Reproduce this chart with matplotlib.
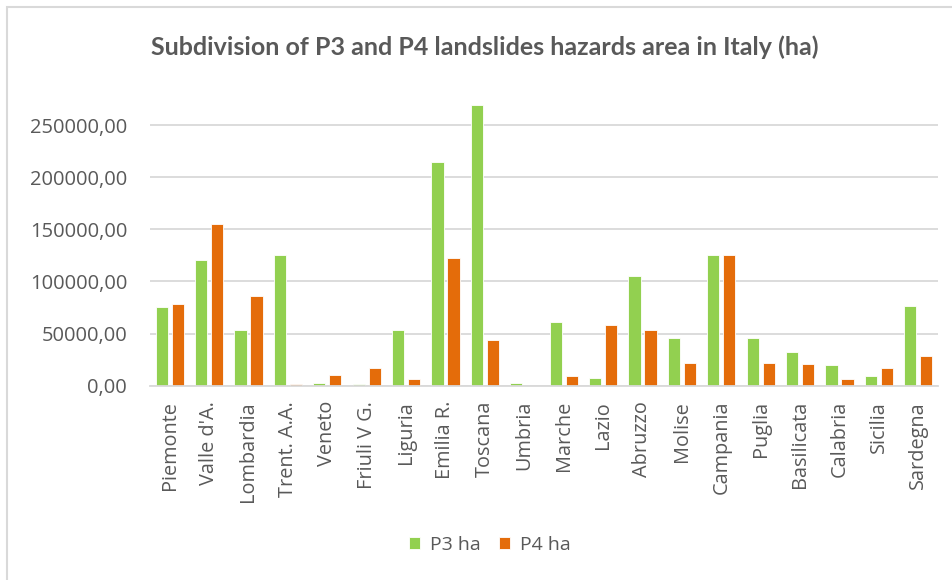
import matplotlib
matplotlib.use("Agg")
import matplotlib.pyplot as plt
import numpy as np
from matplotlib.ticker import FuncFormatter

regions = ["Piemonte", "Valle d'A.", "Lombardia", "Trent. A.A.", "Veneto",
           "Friuli V G.", "Liguria", "Emilia R.", "Toscana", "Umbria",
           "Marche", "Lazio", "Abruzzo", "Molise", "Campania", "Puglia",
           "Basilicata", "Calabria", "Sicilia", "Sardegna"]
p3_ha = [75000, 120400, 53000, 125200, 2900, 1600, 53000, 214300, 269500, 2900,
         61300, 7700, 105100, 45400, 125200, 45400, 32300, 20100, 9300, 76300]
p4_ha = [78000, 154900, 85900, 1600, 10500, 17200, 6100, 122000, 43800, 0,
         9300, 57800, 53400, 21700, 125200, 21700, 20500, 6100, 17200, 28200]
series_names = ["P3 ha", "P4 ha"]
title = "Subdivision of P3 and P4 landslides hazards area in Italy (ha)"

GREEN = "#92D050"
ORANGE = "#E46C0A"
TEXT = "#595959"
GRID = "#D9D9D9"

plt.rcParams["font.family"] = ["Open Sans", "DejaVu Sans"]

fig = plt.figure(figsize=(9.53, 5.80), dpi=100)
ax = fig.add_axes([150 / 953, 1 - 385.7 / 580, 788 / 953, 285.7 / 580])

x = np.arange(len(regions))
w = 0.31
off = 0.205
ax.bar(x - off, p3_ha, width=w, color=GREEN, edgecolor="white", linewidth=0.6,
       label=series_names[0], zorder=3)
ax.bar(x + off, p4_ha, width=w, color=ORANGE, edgecolor="white", linewidth=0.6,
       label=series_names[1], zorder=3)

ax.set_xlim(-0.5, len(regions) - 0.5)
ax.set_ylim(0, 274000)
ax.set_yticks(np.arange(0, 250001, 50000))
ax.yaxis.set_major_formatter(FuncFormatter(lambda v, p: f"{v:.2f}".replace(".", ",")))
ax.grid(axis="y", color=GRID, linewidth=1.3, zorder=0)
for s in ["top", "right", "left"]:
    ax.spines[s].set_visible(False)
ax.spines["bottom"].set_color(GRID)
ax.spines["bottom"].set_linewidth(1.3)
ax.spines["bottom"].set_zorder(4)

ax.set_xticks(x)
ax.set_xticklabels(regions, rotation=90, fontsize=14.3, color=TEXT)
ax.tick_params(axis="x", length=0, pad=11)
ax.tick_params(axis="y", length=0, pad=16.5, labelsize=14.5, labelcolor=TEXT)

fig.text(485 / 953, 1 - 47 / 580, title, ha="center", va="center",
         fontsize=18, fontweight="bold", color=TEXT, family=["Lato", "DejaVu Sans"])

leg = fig.legend(loc="center", bbox_to_anchor=(490 / 953, 1 - 545 / 580), ncol=2,
                 frameon=False, fontsize=14, handlelength=0.57, handleheight=0.57,
                 handletextpad=0.5, columnspacing=0.93)
for t in leg.get_texts():
    t.set_color(TEXT)

# chart area frame
frame = plt.Rectangle((7 / 953, -0.1), 1.2, 1 - 7 / 580 + 0.1, transform=fig.transFigure,
                      fill=False, edgecolor=GRID, linewidth=1.5)
fig.patches.append(frame)

fig.savefig("out.png", dpi=100)
